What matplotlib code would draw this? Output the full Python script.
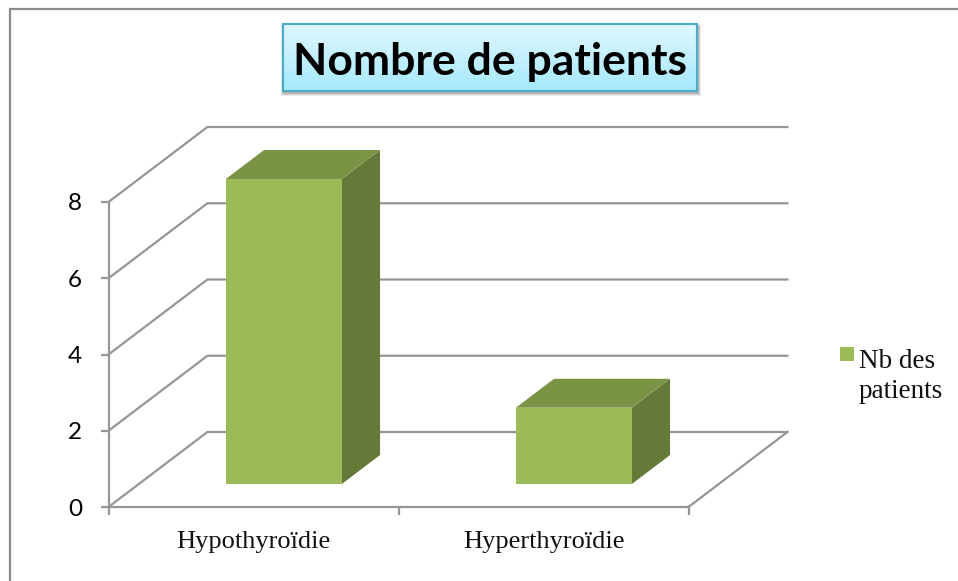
import numpy as np
from matplotlib import pyplot as plt
from matplotlib.colors import LinearSegmentedColormap
from matplotlib.patches import Polygon, Rectangle

categories = ["Hypothyroïdie", "Hyperthyroïdie"]
patients = [8, 2]
y_ticks = [0, 2, 4, 6, 8]
series_name = "Nb des\npatients"
title = "Nombre de patients"

W, H = 958, 581
FRONT = "#9BBB59"
TOP = "#7A9344"
SIDE = "#657A39"
GRID = "#969696"

# fake 3D: one unit of depth moves things right and up
DEPTH_X = 0.341
DEPTH_Y = 1.967
BAR_HALF = 0.2
BAR_D0 = 0.307
BAR_D1 = 0.693


def px_axes(fig, x0, y0, x1, y1, **kw):
    """axes placed with pixel coords, origin top left like the picture"""
    return fig.add_axes([x0 / W, 1 - y1 / H, (x1 - x0) / W, (y1 - y0) / H], **kw)


def project(x, y, d):
    return x + DEPTH_X * d, y + DEPTH_Y * d


fig = plt.figure(figsize=(W / 100, H / 100), dpi=100, facecolor="white")

# chart border, only top and left are visible in the picture
fig.add_artist(Rectangle((10 / W, -0.01), 1.1, 1 - 9 / H + 0.01, transform=fig.transFigure,
                         fill=False, ec="#8c8c8c", lw=1.6))

ax = px_axes(fig, 108.5, 202, 688.5, 507)
ax.set_xlim(0, len(categories))
ax.set_ylim(0, 8)
ax.patch.set_visible(False)
for spine in ["top", "right"]:
    ax.spines[spine].set_visible(False)
for spine in ["left", "bottom"]:
    ax.spines[spine].set_color(GRID)
    ax.spines[spine].set_linewidth(1.6)

ax.set_yticks(y_ticks)
ax.set_xticks(range(len(categories) + 1))
ax.set_xticklabels([])
ax.tick_params(axis="both", color=GRID, width=1.6, length=6)
ax.tick_params(axis="y", labelsize=17.5, pad=13)
for lab in ax.get_yticklabels():
    lab.set_fontfamily("Lato")

# walls and floor
for t in y_ticks:
    xs, ys = zip(project(0, t, 0), project(0, t, 1), project(2, t, 1))
    ax.plot(xs, ys, color=GRID, lw=1.6, clip_on=False, zorder=1, solid_joinstyle="miter")
xs, ys = zip(project(2, 0, 0), project(2, 0, 1))
ax.plot(xs, ys, color=GRID, lw=1.6, clip_on=False, zorder=1)

# bars
for i, (name, val) in enumerate(zip(categories, patients)):
    c = i + 0.5
    x0, x1 = c - BAR_HALF, c + BAR_HALF
    front = [project(x0, 0, BAR_D0), project(x1, 0, BAR_D0),
             project(x1, val, BAR_D0), project(x0, val, BAR_D0)]
    top = [project(x0, val, BAR_D0), project(x1, val, BAR_D0),
           project(x1, val, BAR_D1), project(x0, val, BAR_D1)]
    side = [project(x1, 0, BAR_D0), project(x1, 0, BAR_D1),
            project(x1, val, BAR_D1), project(x1, val, BAR_D0)]
    ax.add_patch(Polygon(side, fc=SIDE, ec="none", clip_on=False, zorder=3))
    ax.add_patch(Polygon(top, fc=TOP, ec="none", clip_on=False, zorder=3))
    ax.add_patch(Polygon(front, fc=FRONT, ec="none", clip_on=False, zorder=4))
    ax.annotate(name, xy=(c, 0), xycoords=("data", "axes fraction"), xytext=(0, -17),
                textcoords="offset points", ha="center", va="top",
                family="Liberation Serif", fontsize=19, color="#111111")

# legend, drawn by hand to keep the two line label
fig.add_artist(Rectangle((840 / W, 1 - 361 / H), 14 / W, 14 / H, transform=fig.transFigure,
                         fc=FRONT, ec="none"))
fig.text(859 / W, 1 - 349 / H, series_name, family="Liberation Serif", fontsize=19.5,
         va="top", ha="left", linespacing=1.25, color="#111111")

# title box with gradient and small soft shadow
for grow, alpha in [(3, 0.10), (2, 0.15), (1, 0.2)]:
    fig.add_artist(Rectangle(((284 - grow) / W, 1 - (93 + grow) / H), (414 + 2 * grow) / W,
                             (66 + 2 * grow) / H, transform=fig.transFigure,
                             fc="#444444", alpha=alpha, ec="none"))
tbox = px_axes(fig, 283, 24, 697, 91)
tbox.set_zorder(5)
tbox.imshow(np.linspace(0, 1, 64).reshape(-1, 1), aspect="auto",
            cmap=LinearSegmentedColormap.from_list("t", ["#E0F7FF", "#A6E9FD"]))
tbox.set_xticks([])
tbox.set_yticks([])
for s in tbox.spines.values():
    s.set_color("#4BACC6")
    s.set_linewidth(1.5)
tbox.text(0.5, 0.44, title, transform=tbox.transAxes, ha="center", va="center",
          family="Lato", fontweight="bold", fontsize=32, color="black")

fig.savefig("out.png", dpi=100)
